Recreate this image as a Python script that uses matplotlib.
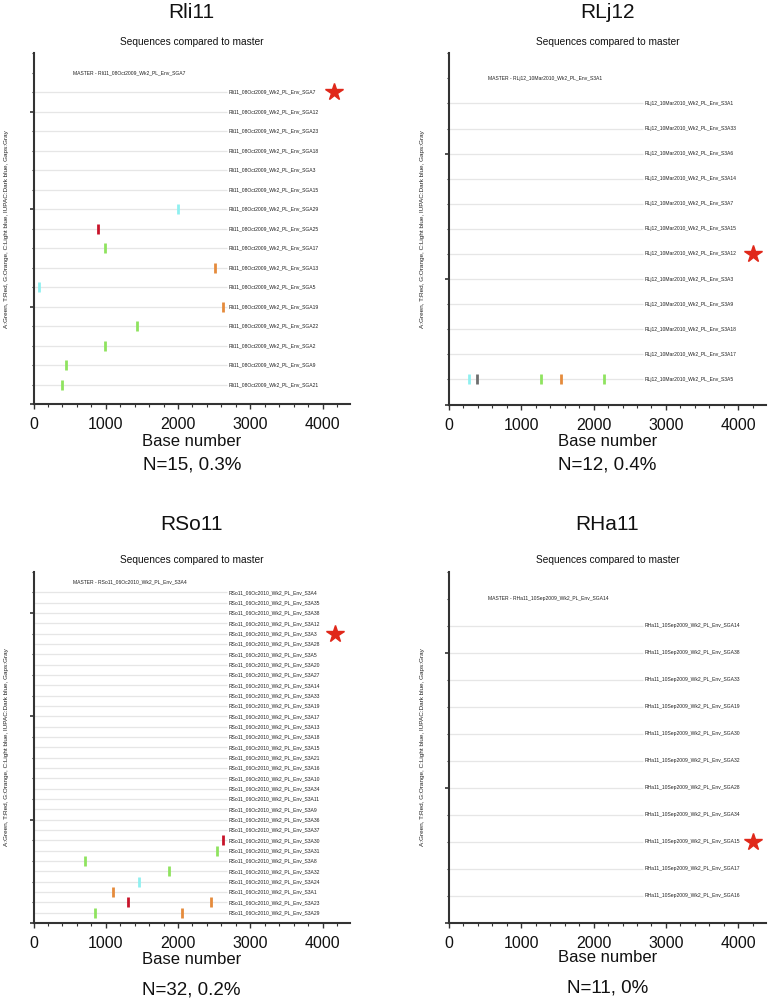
import matplotlib
matplotlib.use("Agg")
import matplotlib.pyplot as plt
from matplotlib.ticker import MultipleLocator, NullFormatter

plt.rcParams['font.family'] = ['Liberation Sans', 'DejaVu Sans']

# ---------------- data ----------------
titles = ["Rli11", "RLj12", "RSo11", "RHa11"]
summaries = ["N=15, 0.3%", "N=12, 0.4%", "N=32, 0.2%", "N=11, 0%"]

rli11_prefix = "Rli11_08Oct2009_Wk2_PL_Env_"
rli11_ids = ["SGA7", "SGA12", "SGA23", "SGA18", "SGA3", "SGA15", "SGA29", "SGA25",
             "SGA17", "SGA13", "SGA5", "SGA19", "SGA22", "SGA2", "SGA9", "SGA21"]
rli11_master = "SGA7"
rli11_star = "SGA7"
rli11_mut_seq = ["SGA29", "SGA25", "SGA17", "SGA13", "SGA5", "SGA19", "SGA22", "SGA2", "SGA9", "SGA21"]
rli11_mut_pos = [2000, 896, 989, 2510, 80, 2617, 1432, 989, 450, 399]
rli11_mut_base = ["C", "T", "A", "G", "C", "G", "A", "A", "A", "A"]

rlj12_prefix = "RLj12_10Mar2010_Wk2_PL_Env_"
rlj12_ids = ["S3A1", "S3A33", "S3A6", "S3A14", "S3A7", "S3A15", "S3A12", "S3A3",
             "S3A9", "S3A18", "S3A17", "S3A5"]
rlj12_master = "S3A1"
rlj12_star = "S3A12"
rlj12_mut_seq = ["S3A5", "S3A5", "S3A5", "S3A5", "S3A5"]
rlj12_mut_pos = [277, 392, 1268, 1553, 2144]
rlj12_mut_base = ["C", "-", "A", "G", "A"]

rso11_prefix = "RSo11_06Oc2010_Wk2_PL_Env_"
rso11_ids = ["S3A4", "S3A35", "S3A38", "S3A12", "S3A3", "S3A28", "S3A5", "S3A20",
             "S3A27", "S3A14", "S3A33", "S3A19", "S3A17", "S3A13", "S3A18", "S3A15",
             "S3A21", "S3A16", "S3A10", "S3A34", "S3A11", "S3A9", "S3A36", "S3A37",
             "S3A30", "S3A31", "S3A8", "S3A32", "S3A24", "S3A1", "S3A23", "S3A29"]
rso11_master = "S3A4"
rso11_star = "S3A3"
rso11_mut_seq = ["S3A30", "S3A31", "S3A8", "S3A32", "S3A24", "S3A1", "S3A23", "S3A23", "S3A29", "S3A29"]
rso11_mut_pos = [2625, 2538, 712, 1874, 1464, 1100, 1303, 2455, 851, 2054]
rso11_mut_base = ["T", "A", "A", "A", "C", "G", "T", "G", "A", "G"]

rha11_prefix = "RHa11_10Sep2009_Wk2_PL_Env_"
rha11_ids = ["SGA14", "SGA38", "SGA33", "SGA19", "SGA30", "SGA32", "SGA28", "SGA34",
             "SGA15", "SGA17", "SGA16"]
rha11_master = "SGA14"
rha11_star = "SGA15"
rha11_mut_seq = []
rha11_mut_pos = []
rha11_mut_base = []

base_colors = {"A": "#8fe35f", "T": "#c8142a", "G": "#e58b3c", "C": "#8ff0f0",
               "IUPAC": "#1f3fbf", "-": "#6e6e6e"}

ylabel_text = "A:Green, T:Red, G:Orange, C:Light blue, IUPAC:Dark blue, Gaps:Gray"
subtitle_text = "Sequences compared to master"

# ---------------- layout (pixels) ----------------
W, H = 768, 1002
fig = plt.figure(figsize=(W / 100, H / 100), dpi=100)

panels = [
    dict(title=titles[0], summ=summaries[0], prefix=rli11_prefix, ids=rli11_ids,
         master=rli11_master, star=rli11_star, mseq=rli11_mut_seq, mpos=rli11_mut_pos,
         mbase=rli11_mut_base, box=(33.5, 53.3, 350, 404.3), star_x=4157,
         ymaj=5, ymin=1, title_y=12, sub_y=42, xl_y=442, n_y=465),
    dict(title=titles[1], summ=summaries[1], prefix=rlj12_prefix, ids=rlj12_ids,
         master=rlj12_master, star=rlj12_star, mseq=rlj12_mut_seq, mpos=rlj12_mut_pos,
         mbase=rlj12_mut_base, box=(449, 53.3, 765.7, 404.5), star_x=4205,
         ymaj=5, ymin=1, title_y=12, sub_y=42, xl_y=442, n_y=465),
    dict(title=titles[2], summ=summaries[2], prefix=rso11_prefix, ids=rso11_ids,
         master=rso11_master, star=rso11_star, mseq=rso11_mut_seq, mpos=rso11_mut_pos,
         mbase=rso11_mut_base, box=(33.5, 571.7, 350, 923), star_x=4170,
         ymaj=10, ymin=2, title_y=525, sub_y=560, xl_y=960, n_y=990),
    dict(title=titles[3], summ=summaries[3], prefix=rha11_prefix, ids=rha11_ids,
         master=rha11_master, star=rha11_star, mseq=rha11_mut_seq, mpos=rha11_mut_pos,
         mbase=rha11_mut_base, box=(449, 571.7, 765.7, 923), star_x=4205,
         ymaj=5, ymin=1, title_y=525, sub_y=560, xl_y=958, n_y=988),
]

XMAX = 4380
spine_c = "#333333"

for p in panels:
    x0, y0, x1, y1 = p["box"]
    ax = fig.add_axes([x0 / W, 1 - y1 / H, (x1 - x0) / W, (y1 - y0) / H])
    n = len(p["ids"])
    rows = {sid: n - i for i, sid in enumerate(p["ids"])}
    ax.set_xlim(0, XMAX)
    ax.set_ylim(0, n + 2)

    # sequence lines and labels
    ax.hlines([rows[s] for s in p["ids"]], 0, 2680, color="#e6e6e6", lw=0.9, zorder=1)
    for s in p["ids"]:
        ax.text(2700, rows[s], p["prefix"] + s, fontsize=3.6, va="center", ha="left",
                color="#222222")
    ax.text(540, n + 1, "MASTER - " + p["prefix"] + p["master"], fontsize=3.6,
            va="center", ha="left", color="#222222")

    # mutations
    for s, pos, b in zip(p["mseq"], p["mpos"], p["mbase"]):
        ax.plot([pos], [rows[s]], marker="|", ms=7.5, mew=2.0, color=base_colors[b],
                linestyle="none", zorder=3)

    # star
    ax.plot([p["star_x"]], [rows[p["star"]]], marker="*", ms=13, color="#e0281a",
            mec="#e0281a", linestyle="none", clip_on=False, zorder=4)

    for side in ("top", "right"):
        ax.spines[side].set_visible(False)
    for side in ("left", "bottom"):
        ax.spines[side].set_color(spine_c)
        ax.spines[side].set_linewidth(1.5)

    ax.xaxis.set_major_locator(MultipleLocator(1000))
    ax.xaxis.set_minor_locator(MultipleLocator(200))
    ax.yaxis.set_major_locator(MultipleLocator(p["ymaj"]))
    ax.yaxis.set_minor_locator(MultipleLocator(p["ymin"]))
    ax.yaxis.set_major_formatter(NullFormatter())
    ax.tick_params(axis="x", which="major", length=3.5, width=1.0, color=spine_c,
                   labelsize=11.5, pad=6, labelcolor="#111111")
    ax.tick_params(axis="x", which="minor", length=2, width=0.8, color=spine_c)
    ax.tick_params(axis="y", which="major", length=3, width=1.2, color=spine_c)
    ax.tick_params(axis="y", which="minor", length=1.5, width=0.8, color=spine_c)

    cx = (x0 + x1) / 2 / W
    fig.text(cx, 1 - p["title_y"] / H, p["title"], fontsize=15, ha="center", va="center",
             color="#111111")
    fig.text(cx, 1 - p["sub_y"] / H, subtitle_text, fontsize=7.3, ha="center", va="center",
             color="#111111")
    fig.text(cx, 1 - p["xl_y"] / H, "Base number", fontsize=12, ha="center", va="center",
             color="#111111")
    fig.text(cx, 1 - p["n_y"] / H, p["summ"], fontsize=13.5, ha="center", va="center",
             color="#111111")
    fig.text((x0 - 26.5) / W, 1 - ((y0 + y1) / 2) / H, ylabel_text, fontsize=4.6,
             rotation=90, ha="center", va="center", color="#222222")

fig.savefig("out.png", dpi=100, facecolor="white")
